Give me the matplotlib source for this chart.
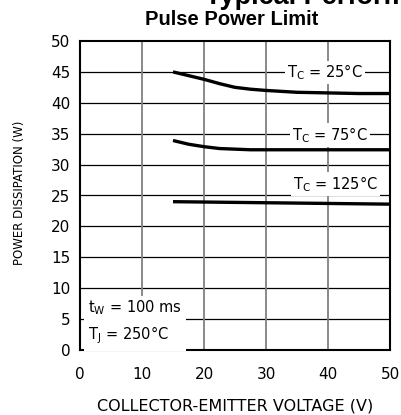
import numpy as np
import matplotlib
matplotlib.use('Agg')
import matplotlib.pyplot as plt

# curve data
vce_25 = [15, 17.5, 20, 22.5, 25, 27.5, 30, 35, 40, 45, 50]
pd_25 = [45.0, 44.4, 43.8, 43.1, 42.5, 42.2, 42.0, 41.7, 41.6, 41.5, 41.5]
vce_75 = [15, 17.5, 20, 22.5, 25, 27.5, 30, 35, 40, 45, 50]
pd_75 = [33.9, 33.3, 32.9, 32.6, 32.5, 32.4, 32.4, 32.4, 32.4, 32.4, 32.4]
vce_125 = [15, 50]
pd_125 = [24.0, 23.6]

curve_labels = ['T$_\\mathregular{C}$ = 25°C', 'T$_\\mathregular{C}$ = 75°C', 'T$_\\mathregular{C}$ = 125°C']
label_pos = [(39.5, 44.9), (40.3, 34.8), (41.2, 26.9)]

x_ticks = [0, 10, 20, 30, 40, 50]
y_ticks = [0, 5, 10, 15, 20, 25, 30, 35, 40, 45, 50]

fig = plt.figure(figsize=(4.01, 4.15), dpi=100)
ax = fig.add_axes([80/401, 65/415, 310/401, 309/415])

# grid: black horizontals, gray verticals
for y in y_ticks[1:-1]:
    ax.axhline(y, color='black', lw=0.9, zorder=1)
for x in x_ticks[1:-1]:
    ax.axvline(x, color='#808080', lw=1.3, zorder=1)

for xs, ys in [(vce_25, pd_25), (vce_75, pd_75), (vce_125, pd_125)]:
    ax.plot(xs, ys, color='black', lw=2.4, solid_capstyle='butt', zorder=3)

for lab, (x, y) in zip(curve_labels, label_pos):
    ax.text(x, y, lab, ha='center', va='center', fontsize=10.5,
            bbox=dict(facecolor='white', edgecolor='none', pad=1.5), zorder=4)

ax.text(1.3, 0.6, 't$_\\mathregular{W}$ = 100 ms\nT$_\\mathregular{J}$ = 250°C',
        ha='left', va='bottom', fontsize=10.5, linespacing=1.5,
        bbox=dict(facecolor='white', edgecolor='none', pad=3), zorder=4)

ax.set_xlim(0, 50)
ax.set_ylim(0, 50)
ax.set_xticks(x_ticks)
ax.set_yticks(y_ticks)
ax.tick_params(length=0, labelsize=11)
ax.tick_params(axis='x', pad=12)
ax.tick_params(axis='y', pad=7)
for s in ax.spines.values():
    s.set_linewidth(1.5)

ax.set_xlabel('COLLECTOR-EMITTER VOLTAGE (V)', fontsize=11.5, labelpad=12)
ax.set_ylabel('POWER DISSIPATION (W)', fontsize=8.5)
ax.yaxis.set_label_coords(-0.175, 0.51)

fig.text(0.577, 0.952, 'Pulse Power Limit', ha='center', va='center',
         fontsize=14.5, fontweight='bold', family='Liberation Sans')
fig.text(205/401, 1 - 4/415, 'Typical Performance Characteristics', ha='left',
         va='baseline', fontsize=19.5, fontweight='bold', family='Liberation Sans')

fig.savefig('out.png', dpi=100)
